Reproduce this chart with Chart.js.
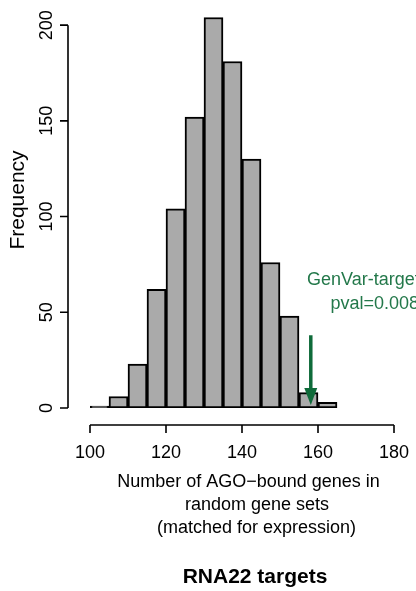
<!DOCTYPE html>
<html>
<head>
<meta charset="utf-8">
<script src="https://cdn.jsdelivr.net/npm/chart.js@4"></script>
<style>
  body { margin: 0; background: #fff; }
  canvas { display: block; }
</style>
</head>
<body>
<canvas id="hist" width="416" height="591"></canvas>
<script>
// histogram bins (left edges, width 5) and counts
const binStarts = [100, 105, 110, 115, 120, 125, 130, 135, 140, 145, 150, 155, 160];
const binWidth = 5;
const counts = [1, 6, 23, 62, 104, 152, 204, 181, 130, 76, 48, 8, 3];

const xTicks = [100, 120, 140, 160, 180];
const yTicks = [0, 50, 100, 150, 200];

// observed value marked with the arrow
const observed = 158.1;
const arrowTop = 38;

const xLabelLines = ['Number of AGO\u2212bound genes in', 'random gene sets', '(matched for expression)'];
const chartTitle = 'RNA22 targets';
const annotation = ['GenVar-targets', 'pval=0.008'];

const FONT = '"Liberation Sans", Arial, Helvetica, sans-serif';

const rAxes = {
    id: 'rAxes',
    afterDraw(chart) {
        const ctx = chart.ctx;
        const xs = chart.scales.x;
        const ys = chart.scales.y;
        ctx.save();
        ctx.strokeStyle = '#000';
        ctx.fillStyle = '#000';
        ctx.lineWidth = 1.6;

        // y axis (detached, R style)
        const yAxisX = 68;
        ctx.beginPath();
        ctx.moveTo(yAxisX, ys.getPixelForValue(yTicks[0]));
        ctx.lineTo(yAxisX, ys.getPixelForValue(yTicks[yTicks.length - 1]));
        yTicks.forEach(t => {
            const py = ys.getPixelForValue(t);
            ctx.moveTo(yAxisX, py);
            ctx.lineTo(yAxisX - 8, py);
        });
        ctx.stroke();
        ctx.font = '18px ' + FONT;
        ctx.textAlign = 'center';
        ctx.textBaseline = 'middle';
        yTicks.forEach(t => {
            ctx.save();
            ctx.translate(47, ys.getPixelForValue(t));
            ctx.rotate(-Math.PI / 2);
            ctx.fillText(String(t), 0, 0);
            ctx.restore();
        });
        ctx.save();
        ctx.translate(18, 200);
        ctx.rotate(-Math.PI / 2);
        ctx.font = '21px ' + FONT;
        ctx.fillText('Frequency', 0, 0);
        ctx.restore();

        // x axis
        const xAxisY = 425;
        ctx.beginPath();
        ctx.moveTo(xs.getPixelForValue(xTicks[0]), xAxisY);
        ctx.lineTo(xs.getPixelForValue(xTicks[xTicks.length - 1]), xAxisY);
        xTicks.forEach(t => {
            const px = xs.getPixelForValue(t);
            ctx.moveTo(px, xAxisY);
            ctx.lineTo(px, xAxisY + 8);
        });
        ctx.stroke();
        xTicks.forEach(t => {
            ctx.fillText(String(t), xs.getPixelForValue(t), 453);
        });

        // axis label lines
        ctx.font = '18px ' + FONT;
        ctx.fillText(xLabelLines[0], 248.5, 482);
        ctx.fillText(xLabelLines[1], 257, 505);
        ctx.fillText(xLabelLines[2], 256.5, 528);

        // title
        ctx.font = 'bold 21px ' + FONT;
        ctx.fillText(chartTitle, 255, 577);

        // arrow
        const ax = xs.getPixelForValue(observed);
        const yTop = ys.getPixelForValue(arrowTop);
        const yTip = ys.getPixelForValue(0) - 3;
        ctx.strokeStyle = '#0f6b3a';
        ctx.fillStyle = '#0f6b3a';
        ctx.lineWidth = 3.5;
        ctx.beginPath();
        ctx.moveTo(ax, yTop);
        ctx.lineTo(ax, yTip - 14);
        ctx.stroke();
        ctx.beginPath();
        ctx.moveTo(ax - 6.5, yTip - 17);
        ctx.lineTo(ax + 6.5, yTip - 17);
        ctx.lineTo(ax, yTip);
        ctx.closePath();
        ctx.fill();

        // annotation
        ctx.fillStyle = '#23784a';
        ctx.font = '18px ' + FONT;
        ctx.textAlign = 'left';
        ctx.fillText(annotation[0], 307, 280);
        ctx.fillText(annotation[1], 330.5, 304);

        ctx.restore();
    }
};

new Chart(document.getElementById('hist'), {
    type: 'bar',
    data: {
        datasets: [{
            data: binStarts.map((s, i) => ({ x: s + binWidth / 2, y: counts[i] })),
            backgroundColor: '#aaaaaa',
            borderColor: '#000',
            borderWidth: 2,
            borderSkipped: false,
            barPercentage: 1,
            categoryPercentage: 1,
        }]
    },
    options: {
        responsive: false,
        animation: false,
        layout: {
            padding: { left: 90, right: 22, top: 6, bottom: 183 }
        },
        plugins: {
            legend: { display: false },
            tooltip: { enabled: false },
            title: { display: false },
        },
        scales: {
            x: {
                type: 'linear',
                display: false,
                min: 100,
                max: 180,
                offset: false,
            },
            y: {
                display: false,
                min: 0,
                max: 210,
            }
        }
    },
    plugins: [rAxes]
});
</script>
</body>
</html>
